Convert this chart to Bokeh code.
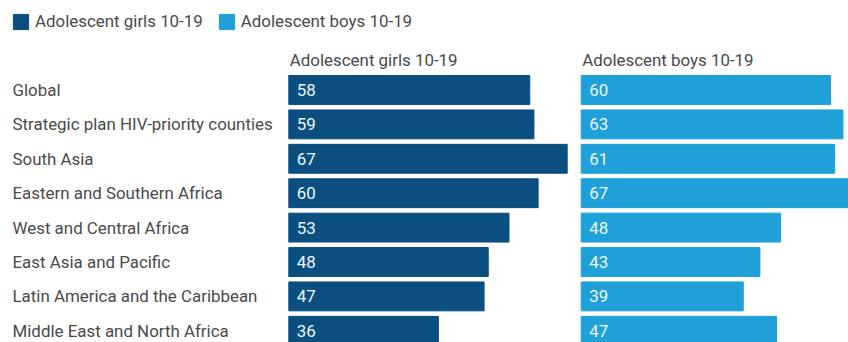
import numpy as np
from bokeh.plotting import figure
from bokeh.models import ColumnDataSource, Range1d, Legend, LegendItem
from bokeh.core.properties import value
from bokeh.embed import file_html
from bokeh.resources import INLINE

# ---- data ----
regions = [
    "Global",
    "Strategic plan HIV-priority counties",
    "South Asia",
    "Eastern and Southern Africa",
    "West and Central Africa",
    "East Asia and Pacific",
    "Latin America and the Caribbean",
    "Middle East and North Africa",
]
girls = [58, 59, 67, 60, 53, 48, 47, 36]
boys = [60, 63, 61, 67, 48, 43, 39, 47]
series = ["Adolescent girls 10-19", "Adolescent boys 10-19"]

# ---- layout / style ----
W, H = 848, 342
PX = 4.155      # pixels per percentage point
ROW = 34.4      # pixels per row
ROW0 = 89.5     # pixel centre of first row
G0, B0 = 288.3, 580.7   # pixel start of each panel
HDR = 59.0      # pixel centre of panel headers
GIRLS_C = "#0b4f80"
BOYS_C = "#1fa0d8"
FONT = value("Roboto")
FS = "16.9px"
TXT = "#4a4a4a"

src = ColumnDataSource(dict(
    idx=list(range(len(regions))),
    region=regions,
    girls=girls,
    boys=boys,
    girls_lbl=[str(v) for v in girls],
    boys_lbl=[str(v) for v in boys],
))

p = figure(width=W, height=H, output_backend="svg", toolbar_location=None,
           min_border=0, x_axis_location=None, y_axis_location=None,
           x_range=Range1d(0, W),
           y_range=Range1d((H - ROW0) / ROW, -ROW0 / ROW))
p.outline_line_color = None
p.grid.visible = False
p.background_fill_color = "white"
p.border_fill_color = "white"
p.extra_x_ranges = {
    "girls": Range1d(-G0 / PX, (W - G0) / PX),
    "boys": Range1d(-B0 / PX, (W - B0) / PX),
}

hdr_y = (HDR - ROW0) / ROW

# category labels
p.text(x=12, y="idx", text="region", source=src, text_baseline="middle",
       text_align="left", text_color=TXT, text_font=FONT, text_font_size=FS)

# bars and values
for name, col, rng, title in [("girls", GIRLS_C, "girls", series[0]),
                              ("boys", BOYS_C, "boys", series[1])]:
    p.hbar(y="idx", left=0, right=name, height=0.84, color=col,
           x_range_name=rng, source=src)
    p.text(x=0, y="idx", text=name + "_lbl", source=src, x_offset=8,
           text_baseline="middle", text_align="left", text_color="#eef6fb",
           text_font=FONT, text_font_size=FS, x_range_name=rng)
    p.text(x=[0], y=[hdr_y], text=[title], x_offset=1,
           text_baseline="middle", text_align="left", text_color=TXT,
           text_font=FONT, text_font_size=FS, x_range_name=rng)

# legend swatches (renderers with no visible data)
nan = np.array([np.nan])
rg = p.hbar(y=nan, left=0, right=nan, height=0.8, color=GIRLS_C)
rb = p.hbar(y=nan, left=0, right=nan, height=0.8, color=BOYS_C)
legend = Legend(
    items=[LegendItem(label=series[0], renderers=[rg]),
           LegendItem(label=series[1], renderers=[rb])],
    orientation="horizontal", location=(11, H - 31), padding=0, margin=0,
    border_line_color=None, background_fill_alpha=0,
    glyph_width=19, glyph_height=19, label_standoff=5, spacing=14,
    label_text_font="Roboto", label_text_font_size=FS,
    label_text_color=TXT, label_height=19,
)
p.add_layout(legend)

open("out.html", "w").write(file_html(p, INLINE))
